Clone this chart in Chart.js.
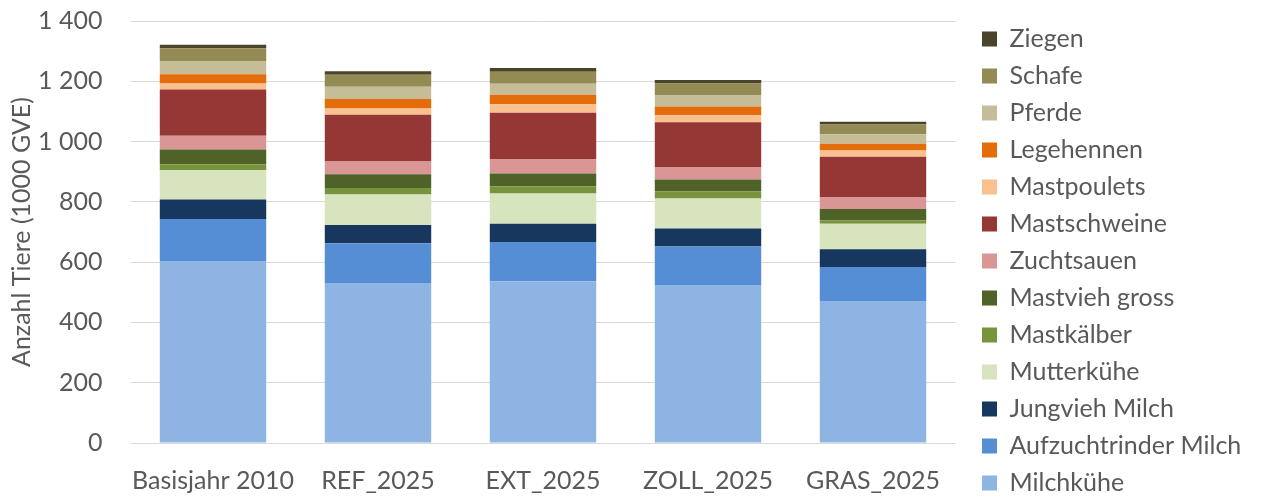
<!DOCTYPE html>
<html>
<head>
<meta charset="utf-8">
<script src="https://cdn.jsdelivr.net/npm/chart.js@4/dist/chart.umd.min.js"></script>
<style>
  html, body { margin: 0; padding: 0; background: #ffffff; }
  #wrap { width: 1264px; height: 497px; }
</style>
</head>
<body>
<div id="wrap"><canvas id="chart" width="1264" height="497"></canvas></div>
<script>
// Szenarien (x-Achse)
const categories = ['Basisjahr 2010', 'REF_2025', 'EXT_2025', 'ZOLL_2025', 'GRAS_2025'];

// Tierbestände in 1000 GVE, von unten nach oben gestapelt
const milchkuehe        = [604, 531, 537, 524, 471];
const aufzuchtrinder    = [139, 132, 130, 128, 113];
const jungviehMilch     = [65, 60, 60, 60, 59];
const mutterkuehe       = [97, 101, 101, 99, 84];
const mastkaelber       = [20, 22, 24, 23, 12];
const mastviehGross     = [49, 46, 42, 40, 37];
const zuchtsauen        = [45, 42, 48, 42, 40];
const mastschweine      = [154, 155, 154, 148, 134];
const mastpoulets       = [20, 21, 28, 23, 20];
const legehennen        = [30, 31, 31, 29, 23];
const pferde            = [44, 41, 37, 37, 31];
const schafe            = [43, 40, 40, 40, 33];
const ziegen            = [11, 11, 12, 11, 9];

// Achsenteilung
const yTicks = [0, 200, 400, 600, 800, 1000, 1200, 1400];

const seriesNames = ['Milchkühe', 'Aufzuchtrinder Milch', 'Jungvieh Milch', 'Mutterkühe', 'Mastkälber',
  'Mastvieh gross', 'Zuchtsauen', 'Mastschweine', 'Mastpoulets', 'Legehennen', 'Pferde', 'Schafe', 'Ziegen'];
const seriesValues = [milchkuehe, aufzuchtrinder, jungviehMilch, mutterkuehe, mastkaelber,
  mastviehGross, zuchtsauen, mastschweine, mastpoulets, legehennen, pferde, schafe, ziegen];
const seriesColors = ['#8EB4E3', '#558ED5', '#17375E', '#D7E4BD', '#77933C',
  '#4F6228', '#D99694', '#953735', '#FAC090', '#E46C0A', '#C4BD97', '#948A54', '#4A452A'];

const textColor = '#595959';
const fontFamily = 'Lato, "Open Sans", sans-serif';

const fmt = v => String(v).replace(/\B(?=(\d{3})+(?!\d))/g, ' ');

// Legend box sits in a fixed column at the right edge
const legendPlacement = {
  id: 'legendPlacement',
  afterLayout(chart) {
    const lg = chart.legend;
    if (!lg) return;
    lg.left = 970;
    lg.right = 1264;
    lg.top = 12.5;
    lg.bottom = 509.5;
  }
};

const config = {
  type: 'bar',
  data: {
    labels: categories,
    datasets: seriesNames.map((name, i) => ({
      label: name,
      data: seriesValues[i],
      backgroundColor: seriesColors[i],
      borderWidth: 0,
      categoryPercentage: 1,
      barPercentage: 0.645
    }))
  },
  options: {
    responsive: false,
    animation: false,
    layout: { padding: { top: 0, right: 0, bottom: 0, left: 0 } },
    plugins: {
      tooltip: { enabled: false },
      legend: {
        position: 'right',
        reverse: true,
        labels: {
          color: textColor,
          font: { family: fontFamily, size: 25 },
          boxWidth: 15,
          boxHeight: 15,
          padding: 12
        }
      }
    },
    scales: {
      x: {
        stacked: true,
        grid: { display: false },
        border: { display: false },
        afterFit(scale) { scale.height = 54; },
        ticks: {
          color: textColor,
          font: { family: fontFamily, size: 25, lineHeight: 1.28 },
          padding: 14,
          maxRotation: 0,
          autoSkip: false
        }
      },
      y: {
        stacked: true,
        min: 0,
        max: 1400,
        afterBuildTicks(scale) { scale.ticks = yTicks.map(v => ({ value: v })); },
        grid: { color: '#D9D9D9', lineWidth: 1, drawTicks: true, tickLength: 22, tickColor: 'rgba(0,0,0,0)' },
        border: { display: false },
        ticks: {
          color: textColor,
          font: { family: fontFamily, size: 25 },
          padding: 6,
          callback: v => fmt(v)
        },
        title: {
          display: true,
          text: 'Anzahl Tiere (1000 GVE)',
          color: textColor,
          font: { family: fontFamily, size: 25 },
          padding: { top: 7, bottom: 4 }
        }
      }
    }
  },
  plugins: [legendPlacement]
};

const chart = new Chart(document.getElementById('chart'), config);

// Settle the plot area horizontally on the intended frame
for (let pass = 0; pass < 3; pass++) {
  const a = chart.chartArea;
  const opts = chart.config.options;
  opts.scales.y.title.padding.bottom += (130.5 - a.left);
  opts.layout.padding.right += (a.right - 955.5);
  chart.update('none');
}
</script>
</body>
</html>
